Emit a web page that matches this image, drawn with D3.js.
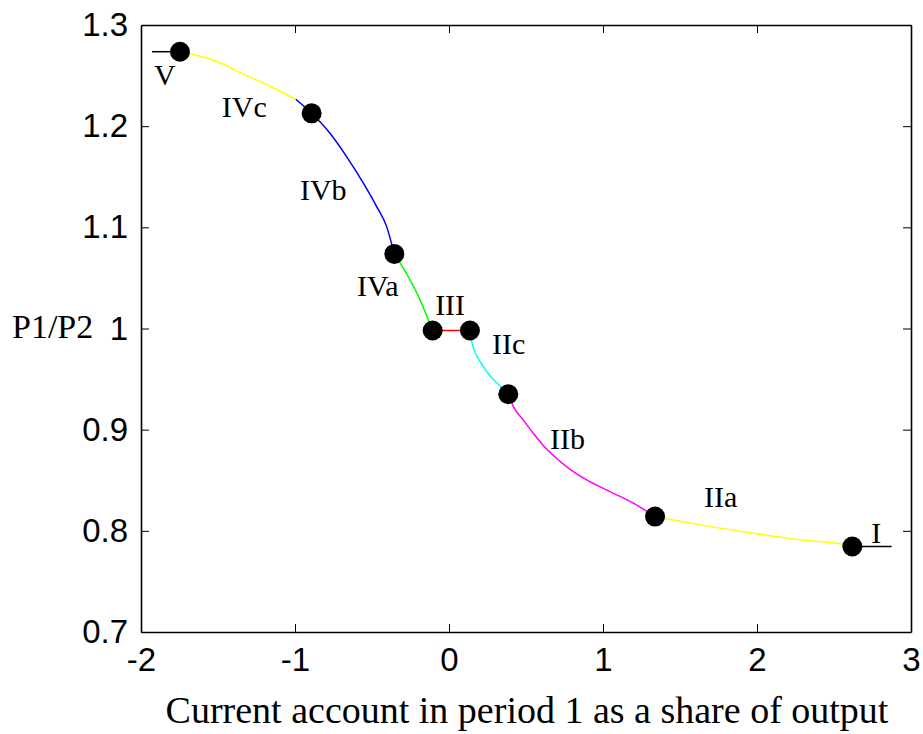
<!DOCTYPE html>
<html>
<head>
<meta charset="utf-8">
<script src="https://cdn.jsdelivr.net/npm/d3@7"></script>
<style>
  body { margin: 0; background: #fff; }
</style>
</head>
<body>
<svg id="chart"></svg>
<script>
// curve pieces
const yellowVX = [-1.747, -1.531, -1.314, -1.162, -0.995];
const yellowVY = [1.2736, 1.2654, 1.2500, 1.2395, 1.2266];
const blueX = [-0.995, -0.892, -0.773, -0.665, -0.556, -0.470, -0.405, -0.355];
const blueY = [1.2266, 1.2127, 1.193, 1.1699, 1.1436, 1.1205, 1.1007, 1.0737];
const greenX = [-0.355, -0.253, -0.188, -0.134, -0.106];
const greenY = [1.0737, 1.048, 1.0283, 1.0085, 0.998];
const redX = [-0.106, 0.136];
const redY = [0.998, 0.998];
const cyanX = [0.136, 0.147, 0.223, 0.336, 0.385];
const cyanY = [0.998, 0.987, 0.9624, 0.9426, 0.935];
const magentaX = [0.385, 0.418, 0.482, 0.547, 0.612, 0.700, 0.786, 0.894, 1.045, 1.197, 1.338];
const magentaY = [0.935, 0.9228, 0.9097, 0.8965, 0.8843, 0.8715, 0.8608, 0.8504, 0.8388, 0.8274, 0.8141];
const yellowIX = [1.338, 1.630, 1.976, 2.279, 2.539, 2.619];
const yellowIY = [0.8141, 0.8059, 0.7977, 0.7911, 0.7872, 0.7845];

// regime boundary points
const dotX = [-1.747, -0.892, -0.355, -0.106, 0.136, 0.385, 1.338, 2.619];
const dotY = [1.2736, 1.2127, 1.0737, 0.998, 0.998, 0.935, 0.8141, 0.7845];

// short black levels at both ends
const endLineX = [[-1.929, -1.747], [2.619, 2.874]];
const endLineY = [1.2736, 0.7845];

// region labels
const labelText = ["V", "IVc", "IVb", "IVa", "III", "IIc", "IIb", "IIa", "I"];
const labelX = [-1.915, -1.475, -0.968, -0.598, -0.09, 0.28, 0.656, 1.656, 2.742];
const labelY = [1.2407, 1.2091, 1.1271, 1.0322, 1.0134, 0.9749, 0.881, 0.8237, 0.7881];

const xTicks = [-2, -1, 0, 1, 2, 3];
const yTicks = [0.7, 0.8, 0.9, 1, 1.1, 1.2, 1.3];

const margin = { top: 25, right: 12, bottom: 102, left: 141 };
const width = 923 - margin.left - margin.right;
const height = 734 - margin.top - margin.bottom;

const svg = d3.select("#chart")
    .attr("width", 923)
    .attr("height", 734);

const g = svg.append("g")
    .attr("transform", `translate(${margin.left},${margin.top})`);

const x = d3.scaleLinear().domain([-2, 3]).range([0, width]);
const y = d3.scaleLinear().domain([0.7, 1.3]).range([height, 0]);

const sans = "'Liberation Sans', Arial, sans-serif";
const serif = "'Liberation Serif', 'Times New Roman', serif";

// plain hyphen for negatives, like the original
const xFmt = d => String(d);
const yFmt = d => d === 1 ? "1" : d.toFixed(1);

// axes: bottom/left with labels, top/right mirrored ticks only, all ticks inward
g.append("g")
    .attr("transform", `translate(0,${height})`)
    .call(d3.axisBottom(x).tickValues(xTicks).tickFormat(xFmt).tickSizeInner(-8).tickSizeOuter(0).tickPadding(16));
g.append("g")
    .call(d3.axisLeft(y).tickValues(yTicks).tickFormat(yFmt).tickSizeInner(-8).tickSizeOuter(0).tickPadding(13));
g.append("g")
    .call(d3.axisTop(x).tickValues(xTicks).tickFormat("").tickSizeInner(-8).tickSizeOuter(0));
g.append("g")
    .attr("transform", `translate(${width},0)`)
    .call(d3.axisRight(y).tickValues(yTicks).tickFormat("").tickSizeInner(-8).tickSizeOuter(0));

g.selectAll(".domain").attr("stroke", "#000").attr("stroke-width", 1.6);
g.selectAll(".tick line").attr("stroke", "#000").attr("stroke-width", 1);
g.selectAll(".tick text")
    .attr("fill", "#000")
    .style("font-family", sans)
    .style("font-size", "33px");

// curve pieces
const line = d3.line()
    .x(d => x(d[0]))
    .y(d => y(d[1]))
    .curve(d3.curveMonotoneX);

const pieces = [
    [yellowVX, yellowVY, "#ffff00"],
    [blueX, blueY, "#0000ff"],
    [greenX, greenY, "#00ff00"],
    [redX, redY, "#ff0000"],
    [cyanX, cyanY, "#00ffff"],
    [magentaX, magentaY, "#ff00ff"],
    [yellowIX, yellowIY, "#ffff00"]
];

pieces.forEach(p => {
    g.append("path")
        .datum(d3.zip(p[0], p[1]))
        .attr("fill", "none")
        .attr("stroke", p[2])
        .attr("stroke-width", 1.5)
        .attr("d", line);
});

endLineX.forEach((xs, i) => {
    g.append("line")
        .attr("x1", x(xs[0]))
        .attr("x2", x(xs[1]))
        .attr("y1", y(endLineY[i]))
        .attr("y2", y(endLineY[i]))
        .attr("stroke", "#000")
        .attr("stroke-width", 1.5);
});

g.selectAll("circle.dot")
    .data(d3.zip(dotX, dotY))
    .join("circle")
    .attr("class", "dot")
    .attr("cx", d => x(d[0]))
    .attr("cy", d => y(d[1]))
    .attr("r", 10)
    .attr("fill", "#000");

g.selectAll("text.region")
    .data(labelText)
    .join("text")
    .attr("class", "region")
    .attr("x", (d, i) => x(labelX[i]))
    .attr("y", (d, i) => y(labelY[i]))
    .style("font-family", serif)
    .style("font-size", "30px")
    .attr("fill", "#000")
    .text(d => d);

// axis titles
svg.append("text")
    .attr("x", margin.left + width / 2 + 1)
    .attr("y", 723)
    .attr("text-anchor", "middle")
    .style("font-family", serif)
    .style("font-size", "38px")
    .text("Current account in period 1 as a share of output");

svg.append("text")
    .attr("x", 12)
    .attr("y", 338)
    .style("font-family", serif)
    .style("font-size", "34px")
    .text("P1/P2");
</script>
</body>
</html>
